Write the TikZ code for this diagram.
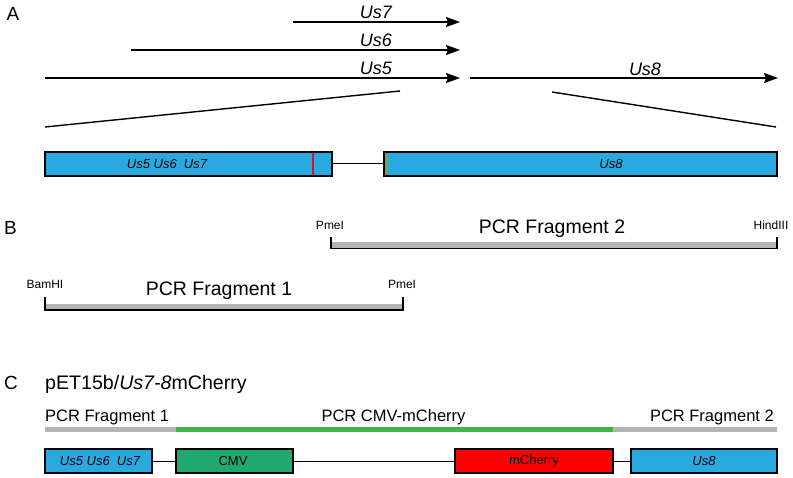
\documentclass[tikz,border=0pt]{standalone}
\usepackage{fontspec}
\setmainfont{Liberation Sans}
\usetikzlibrary{arrows.meta}
\definecolor{usblue}{RGB}{41,169,224}
\definecolor{cmvgreen}{RGB}{32,168,110}
\definecolor{bargreen}{RGB}{62,182,74}
\definecolor{pcrgray}{RGB}{180,180,180}
\definecolor{markred}{RGB}{220,20,30}
\definecolor{markgreen}{RGB}{110,160,60}
\tikzset{
  panel/.style={font=\fontsize{19}{22}\selectfont, anchor=base west, inner sep=0pt},
  genelbl/.style={font=\fontsize{18}{21}\selectfont\itshape, anchor=base, inner sep=0pt},
  gene/.style={draw=black, line width=1.2pt, minimum height=24pt, inner sep=0pt},
  boxtxt/.style={font=\fontsize{13}{15}\selectfont},
  boxtxtit/.style={font=\fontsize{13}{15}\selectfont\itshape},
  enz/.style={font=\fontsize{12}{14}\selectfont, anchor=base, inner sep=0pt},
  pcrbig/.style={font=\fontsize{19.5}{23}\selectfont, anchor=base, inner sep=0pt},
  pcrc/.style={font=\fontsize{16.5}{20}\selectfont, inner sep=0pt},
  garrow/.style={line width=1.5pt, -{Stealth[length=14pt,width=10pt,inset=2pt]}},
  diag/.style={line width=1.4pt},
  link/.style={line width=1pt},
  bracket/.style={line width=1.2pt}
}
\begin{document}
\begin{tikzpicture}[x=1pt,y=-1pt]
\useasboundingbox (0,0) rectangle (793,478);

% ---------------- Panel A ----------------
\node[panel] (labA) at (6.5,20.5) {A};

\coordinate (s7) at (293,22);  \coordinate (e7) at (460,22);
\coordinate (s6) at (131,50);  \coordinate (e6) at (460,50);
\coordinate (s5) at (45,78);   \coordinate (e5) at (460,78);
\coordinate (s8) at (470,78);  \coordinate (e8) at (778,78);
\draw[garrow] (s7) -- (e7);
\draw[garrow] (s6) -- (e6);
\draw[garrow] (s5) -- (e5);
\draw[garrow] (s8) -- (e8);
\node[genelbl] (lUs7) at (376,18.5) {Us7};
\node[genelbl] (lUs6) at (376,46.5) {Us6};
\node[genelbl] (lUs5) at (376,75) {Us5};
\node[genelbl] (lUs8) at (645,75.5) {Us8};

\coordinate (dl1) at (45,127);  \coordinate (dl2) at (400,91);
\coordinate (dr1) at (552,92);  \coordinate (dr2) at (776,127);
\draw[diag] (dl1) -- (dl2);
\draw[diag] (dr1) -- (dr2);

\node[gene, fill=usblue, minimum width=287pt] (boxA1) at (188.5,164) {};
\node[gene, fill=usblue, minimum width=393pt] (boxA2) at (580.5,164) {};
\node[boxtxtit] (tA1) at (167,164) {Us5 Us6~\ Us7};
\node[boxtxtit] (tA2) at (611,164) {Us8};
\draw[markred, line width=2pt] (313,152.8) -- (313,175.2);
\draw[markgreen, line width=1.2pt] (386.5,152.8) -- (386.5,175.2);
\draw[link] (boxA1.east) -- (boxA2.west);

% ---------------- Panel B ----------------
\node[panel] (labB) at (4,234.5) {B};

% PCR fragment 2
\fill[pcrgray] (331,242.5) rectangle (777,248.5);
\coordinate (f2a) at (331,237); \coordinate (f2b) at (331,248.5);
\coordinate (f2c) at (777,248.5); \coordinate (f2d) at (777,237);
\draw[bracket] (f2a) -- (f2b) -- (f2c) -- (f2d);
\node[enz] (pme1) at (330,230) {PmeI};
\node[enz] (hind) at (771,229.5) {HindIII};
\node[pcrbig] (frag2) at (552,234) {PCR Fragment 2};

% PCR fragment 1
\fill[pcrgray] (45,304.5) rectangle (403,310);
\coordinate (f1a) at (45,297); \coordinate (f1b) at (45,310);
\coordinate (f1c) at (403,310); \coordinate (f1d) at (403,297);
\draw[bracket] (f1a) -- (f1b) -- (f1c) -- (f1d);
\node[enz] (bam) at (45,288.5) {BamHI};
\node[enz] (pme2) at (402,289) {PmeI};
\node[pcrbig] (frag1) at (219,296) {PCR Fragment 1};

% ---------------- Panel C ----------------
\node[panel] (labC) at (4,389.5) {C};
\node[font=\fontsize{19.6}{23}\selectfont, anchor=base west, inner sep=0pt] (title) at (45,389.5) {pET15b/\textit{Us7-8}mCherry};

\node[pcrc, anchor=base west] (cf1) at (45,421.7) {PCR Fragment 1};
\node[pcrc, anchor=base] (ccmv) at (393.5,421.7) {PCR CMV-mCherry};
\node[pcrc, anchor=base east] (cf2) at (774,421.7) {PCR Fragment 2};
\fill[pcrgray] (45,426.7) rectangle (176,432.3);
\fill[bargreen] (176,426.7) rectangle (613,432.3);
\fill[pcrgray] (613,426.7) rectangle (777,432.3);

\node[gene, fill=usblue, minimum width=107pt] (boxC1) at (98.5,461) {};
\node[gene, fill=cmvgreen, minimum width=117pt] (boxC2) at (234.5,461) {};
\node[gene, fill=red, minimum width=158pt] (boxC3) at (534,461) {};
\node[gene, fill=usblue, minimum width=146pt] (boxC4) at (704,461) {};
\node[boxtxtit] (tC1) at (100,461) {Us5 Us6~\ Us7};
\node[boxtxt] (tC2) at (233,461) {CMV};
\node[boxtxt] (tC3) at (534,461) {mCherry};
\node[boxtxtit] (tC4) at (704,461) {Us8};
\draw[link] (boxC1.east) -- (boxC2.west);
\draw[link] (boxC2.east) -- (boxC3.west);
\draw[link] (boxC3.east) -- (boxC4.west);
\end{tikzpicture}
\end{document}
